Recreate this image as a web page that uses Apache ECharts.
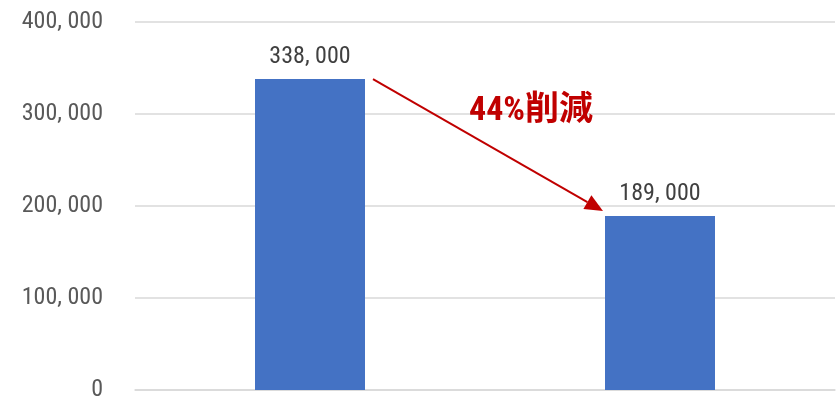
<!DOCTYPE html>
<html><head><meta charset="utf-8">
<script src="https://cdn.jsdelivr.net/npm/echarts@6/dist/echarts.min.js"></script>
<style>html,body{margin:0;padding:0;background:#fff}#c{width:837px;height:405px}</style>
</head><body><div id="c"></div>
<script>
const categories = ['A', 'B'];
const values = [338000, 189000];
const yTicks = [0, 100000, 200000, 300000, 400000];
const annotationText = '44%削減';

const FONT = '"Roboto Condensed", "Noto Sans CJK JP", sans-serif';
const chart = echarts.init(document.getElementById('c'));
function fmt(v){ return v.toLocaleString('en-US').replace(/,/g, ', '); }
const option = {
  animation: false,
  grid: {left: 135, right: 2, top: 22, bottom: 15},
  xAxis: {
    type: 'category', data: categories,
    axisLine: {lineStyle: {color: '#d9d9d9', width: 1.5}},
    axisTick: {show: false}, axisLabel: {show: false}
  },
  yAxis: {
    type: 'value', min: yTicks[0], max: yTicks[yTicks.length-1], interval: 100000,
    axisLine: {show: false}, axisTick: {show: false},
    splitLine: {lineStyle: {color: '#d9d9d9', width: 1.5}},
    axisLabel: {color: '#595959', fontFamily: FONT, fontSize: 24, margin: 32,
      formatter: v => fmt(v)}
  },
  series: [{
    type: 'bar', data: values, barWidth: 110,
    itemStyle: {color: '#4472C4'},
    label: {show: true, position: 'top', distance: 10, color: '#404040',
      fontFamily: FONT, fontSize: 24, formatter: p => fmt(p.value)}
  }]
};
chart.setOption(option);

const p0 = chart.convertToPixel({seriesIndex: 0}, [0, values[0]]);
const p1 = chart.convertToPixel({seriesIndex: 0}, [1, values[1]]);
const half = 55;
const sx = p0[0] + half + 8, sy = p0[1];
const ex = p1[0] - half - 2, ey = p1[1] - 5;
const ang = Math.atan2(ey - sy, ex - sx);
const L = 18, W = 8;
const bx = ex - L * Math.cos(ang), by = ey - L * Math.sin(ang);
const nx = -Math.sin(ang), ny = Math.cos(ang);
chart.setOption({
  graphic: [
    {type: 'line', shape: {x1: sx, y1: sy, x2: bx, y2: by}, style: {stroke: '#C00000', lineWidth: 2}},
    {type: 'polygon', shape: {points: [[ex, ey], [bx + nx * W, by + ny * W], [bx - nx * W, by - ny * W]]}, style: {fill: '#C00000'}},
    {type: 'text', x: 531, y: 111, style: {text: annotationText, fill: '#C00000',
      font: 'bold 34px ' + FONT, textAlign: 'center', textVerticalAlign: 'middle'}}
  ]
});
</script></body></html>
